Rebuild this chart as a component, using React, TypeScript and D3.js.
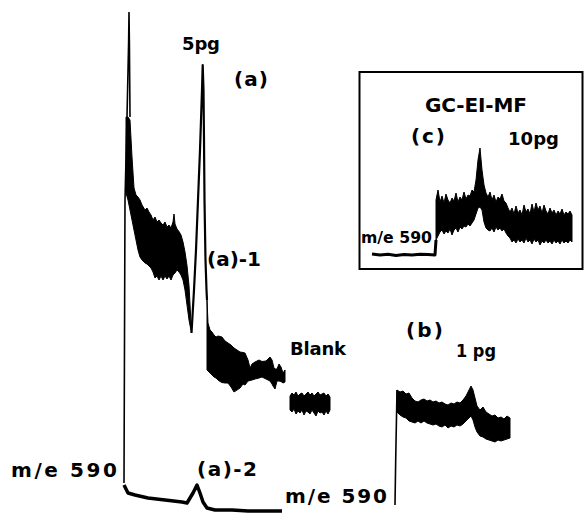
import React from "react";
import * as d3 from "d3";

// Panel (a)-1 : m/e 590 trace, 5 pg injection (scan no. / rel. intensity)
const a1RiseT = [0, 0.5, 1.5, 2.3, 2.5, 2.7, 3];
const a1RiseI = [0, 56.6, 73.2, 88, 94.2, 88, 73.2];

const a1BandT = [1, 2, 3, 4, 5, 6, 7, 8, 9, 10.5, 11.5, 12.5, 13.5, 14.5, 15.5, 16.5, 17.5, 18.5, 19.5, 20.5, 21.5, 22.5, 23.5, 24.5, 25, 25.5, 26.5, 27.5, 28.5, 29.5, 30.5, 31.5, 32.5, 33.75];
const a1BandHi = [73.2, 73.2, 72.6, 65.2, 59, 57.6, 57.2, 56.6, 55.6, 54.6, 55, 54.2, 53.6, 52.6, 53.2, 52.2, 52.6, 52, 51.6, 52.2, 51.2, 51.6, 51, 52.2, 53.8, 51.8, 50.8, 50.3, 49.6, 48.2, 46.2, 43.5, 39.5, 30];
const a1BandLo = [58, 56.6, 54.6, 52.6, 50.6, 48.6, 46.6, 45.2, 44.6, 44, 43.8, 43.4, 43, 42.2, 41, 41.4, 40.6, 41.4, 40.6, 41.4, 40.8, 41.4, 40.6, 41.6, 41.8, 42, 42.6, 42.2, 41.6, 40.6, 38.6, 35.6, 32.6, 30];

const a1PeakT = [33.75, 35, 36, 37, 38, 38.5, 39, 39.35, 39.75, 40, 40.25, 40.75, 41.25, 41.5];
const a1PeakI = [30, 38.6, 46.6, 56.6, 66.6, 72.6, 78.6, 83.6, 78.6, 68.6, 56.6, 44.6, 38.6, 36.6];

const a1TailT = [41.5, 42, 43, 44, 45, 46, 47, 48, 49, 50.5, 52, 53.5, 55, 56.5, 58, 59.5, 60.5, 62, 63, 64, 65.5, 67.5, 69, 71, 73, 74, 74.5, 75, 75.5, 76.5, 77.5, 78.5, 79.5, 80.5];
const a1TailHi = [36.6, 32, 30.6, 30.2, 29.6, 29.2, 29.4, 29.3, 29.2, 28.4, 28, 27.6, 27, 26.6, 26.2, 26.1, 26, 24.6, 23, 23.8, 24.2, 24.6, 24.3, 24.4, 25.2, 24.6, 23.8, 23, 22.8, 22.8, 23.8, 23.2, 22, 22.6];
const a1TailLo = [22.6, 22.4, 22, 21.6, 21.2, 21, 20.6, 20.3, 20.1, 20, 20, 19.2, 18.2, 18.6, 19, 19.8, 19.6, 20.4, 20.5, 20.6, 20.8, 21, 21.2, 20.8, 20.4, 19.8, 19.4, 19.1, 18.8, 20.4, 20.4, 20.3, 20, 20.2];

// Panel (a)-2
const a2T = [0, 0.5, 2, 5.5, 12, 20.5, 29, 31.5, 34.5, 36.5, 38, 39.5, 41.5, 45.5, 54, 62, 70.5, 79];
const a2I = [5.2, 4.8, 3.6, 3.2, 2.6, 2.2, 1.8, 1.6, 3.6, 5.2, 3.6, 1.8, 0.6, 0.2, 0.2, 0, 0, 0];

// Blank run
const blankT = [83, 84, 85, 86, 87, 88, 89, 90, 91, 92, 93, 94, 95, 96, 97, 98, 99, 100, 101, 102, 103];
const blankHi = [17.4, 18, 17.6, 18.2, 17.4, 17.8, 18, 17.4, 17.8, 18.2, 17.6, 18, 17.4, 17.8, 18.2, 17.6, 17.8, 18, 17.4, 17.8, 17.2];
const blankLo = [14.6, 14.2, 14.8, 13.8, 14.4, 14, 14.6, 13.6, 14.4, 14.2, 13.8, 14.6, 14, 13.4, 14.4, 14, 14.2, 13.6, 14.4, 13.8, 14.6];

// Panel (b) : 1 pg
const bRiseT = [0, 0.35, 0.75, 1];
const bRiseI = [0, 9, 17.6, 23];
const bT = [1, 2.5, 4, 5.5, 7, 8.5, 10, 11.5, 13, 14.5, 16, 17.5, 19, 20.5, 22, 23.5, 25, 26.5, 28, 29.5, 31, 32.5, 34, 35.5, 37, 38, 39, 40, 41, 42.5, 44, 45.5, 47, 48.5, 50, 51.5, 53, 54.5, 56, 57.5];
const bHi = [23, 22.6, 22.8, 22.2, 22.4, 21.4, 20.8, 20.6, 21, 21.2, 20.8, 21, 20.6, 20.8, 20.4, 20.6, 20.2, 20, 20.4, 20.2, 20.6, 20.4, 21, 21.8, 23, 23.8, 23, 21.4, 19.8, 19, 19.6, 18.6, 18.2, 17.8, 18, 17.4, 17.6, 17.2, 17.8, 17.4];
const bLo = [18.6, 18, 17.6, 17.4, 16.8, 16.6, 16.4, 16.8, 16.4, 16.8, 16.4, 16.2, 16, 16.2, 15.8, 15.6, 16, 15.4, 15.8, 15.6, 16, 15.8, 16.2, 16.8, 17.4, 17.8, 17, 15.6, 14.6, 13.8, 13.6, 13.2, 13, 12.8, 12.6, 13, 12.8, 13, 13.2, 13.4];

// Inset (c) : GC-EI-MF, 10 pg
const cBaseT = [0, 4, 8, 12, 16, 20, 24, 28, 31.5, 32];
const cBaseI = [0.5, 0, 0.4, -0.2, 0.3, 0, 0.4, 0.2, 0, 7.5];
const cT = [32, 33, 34, 35, 36, 37, 38, 39, 40, 41, 42, 43, 44, 45, 46, 47, 48, 49, 50, 51, 52, 53, 54, 55, 56, 57, 58, 59, 60, 61, 62, 63, 64, 65, 66, 67, 68, 69, 70, 71, 72, 73, 74, 75, 76, 77, 78, 79, 80, 81, 82, 83, 84, 85, 86, 87, 88, 89, 90, 91, 92, 93, 94, 95, 96, 97, 98, 99, 100];
const cHi = [27.5, 32.5, 26.5, 29.5, 26, 30.5, 27.5, 26, 28.5, 27, 31, 26.5, 29, 27.5, 31.5, 28, 30, 29.5, 32.5, 31.5, 37.5, 47.5, 53.5, 42.5, 35, 31, 29, 31.5, 27.5, 30, 26.5, 29, 28, 30.5, 27, 26, 23.5, 21.5, 23.5, 20.5, 24.5, 21, 22.5, 20, 25, 21.5, 23, 20.5, 25.5, 21.5, 26, 22.5, 24.5, 21, 25, 22, 20.5, 23.5, 21, 22.5, 20, 22, 20.5, 23, 20, 21.5, 20.5, 22, 20];
const cLo = [7.5, 9.5, 11.5, 12.5, 10.5, 12, 11, 13, 10, 12.5, 13.5, 11.5, 14, 13, 14.5, 14, 15.5, 14.5, 16, 17.5, 20.5, 23.5, 24, 22.5, 16.5, 13.5, 12.5, 12, 13.5, 11.5, 14, 12.5, 13.5, 12, 13, 11, 9.5, 8.5, 6.5, 7.5, 6, 8, 6.5, 7.5, 6, 8.5, 6.5, 7.5, 5.5, 8, 6.5, 7.5, 5, 7, 6, 7.5, 6, 7, 5.5, 7.5, 6, 7, 5.5, 7.5, 6, 7, 6, 7.5, 6.5];

const FONT = "'DejaVu Sans', sans-serif";

const App = () => {
  const width = 584;
  const height = 517;

  const xA = d3.scaleLinear().domain([0, 80]).range([124, 284]);
  const yA = d3.scaleLinear().domain([0, 94]).range([483, 13]);
  const yA2 = d3.scaleLinear().domain([0, 10]).range([511, 461]);
  const xB = d3.scaleLinear().domain([0, 60]).range([395, 515]);
  const yB = d3.scaleLinear().domain([0, 30]).range([505, 355]);
  const xC = d3.scaleLinear().domain([0, 100]).range([372, 572]);
  const yC = d3.scaleLinear().domain([0, 60]).range([255, 135]);

  const linePath = (ts, vs, x, y) =>
    d3.line().x((d) => x(d[0])).y((d) => y(d[1]))(ts.map((t, i) => [t, vs[i]]));

  const bandPath = (ts, hi, lo, x, y) =>
    d3
      .area()
      .x((d) => x(d[0]))
      .y0((d) => y(d[2]))
      .y1((d) => y(d[1]))(ts.map((t, i) => [t, hi[i], lo[i]]));

  const lbl = { fontFamily: FONT, fontWeight: "bold", fill: "#000" };

  return (
    <svg
      width={width}
      height={height}
      style={{ position: "absolute", left: 0, top: 0, background: "#fff" }}
    >
      <rect x={0} y={0} width={width} height={height} fill="#fff" />

      {/* (a)-1 */}
      <path d={linePath(a1RiseT, a1RiseI, xA, yA)} fill="none" stroke="#000" strokeWidth={1.6} />
      <path d={bandPath(a1BandT, a1BandHi, a1BandLo, xA, yA)} fill="#000" stroke="#000" strokeWidth={1} strokeLinejoin="round" />
      <path d={linePath(a1PeakT, a1PeakI, xA, yA)} fill="none" stroke="#000" strokeWidth={2.2} strokeLinejoin="round" />
      <path d={bandPath(a1TailT, a1TailHi, a1TailLo, xA, yA)} fill="#000" stroke="#000" strokeWidth={1} strokeLinejoin="round" />

      {/* (a)-2 */}
      <path d={linePath(a2T, a2I, xA, yA2)} fill="none" stroke="#000" strokeWidth={3.5} strokeLinejoin="round" />

      {/* blank */}
      <path d={bandPath(blankT, blankHi, blankLo, xA, yA)} fill="#000" stroke="#000" strokeWidth={1} strokeLinejoin="round" />

      {/* (b) */}
      <path d={linePath(bRiseT, bRiseI, xB, yB)} fill="none" stroke="#000" strokeWidth={1.6} />
      <path d={bandPath(bT, bHi, bLo, xB, yB)} fill="#000" stroke="#000" strokeWidth={1} strokeLinejoin="round" />

      {/* inset (c) */}
      <rect x={359.5} y={72} width={223} height={197} fill="none" stroke="#000" strokeWidth={2} />
      <path d={linePath(cBaseT, cBaseI, xC, yC)} fill="none" stroke="#000" strokeWidth={3} strokeLinejoin="round" />
      <path d={bandPath(cT, cHi, cLo, xC, yC)} fill="#000" stroke="#000" strokeWidth={1} strokeLinejoin="round" />

      {/* labels */}
      <g style={lbl}>
        <text x={182} y={50} fontSize={18} textLength={38} lengthAdjust="spacing">5pg</text>
        <text x={234} y={86} fontSize={20} textLength={34} lengthAdjust="spacing">(a)</text>
        <text x={207} y={266} fontSize={20} textLength={54} lengthAdjust="spacing">(a)-1</text>
        <text x={290} y={355} fontSize={18} textLength={56} lengthAdjust="spacing">Blank</text>
        <text x={406} y={337} fontSize={20} textLength={37} lengthAdjust="spacing">(b)</text>
        <text x={456} y={357} fontSize={18} textLength={40} lengthAdjust="spacingAndGlyphs">1 pg</text>
        <text x={11} y={477} fontSize={20} textLength={106} lengthAdjust="spacing">m/e  590</text>
        <text x={197} y={476} fontSize={20} textLength={60} lengthAdjust="spacing">(a)-2</text>
        <text x={285} y={503} fontSize={20} textLength={102} lengthAdjust="spacing">m/e  590</text>
        <text x={425} y={112} fontSize={20} textLength={102} lengthAdjust="spacing">GC-EI-MF</text>
        <text x={411} y={143} fontSize={20} textLength={34} lengthAdjust="spacing">(c)</text>
        <text x={508} y={145} fontSize={18} textLength={51} lengthAdjust="spacing">10pg</text>
      </g>
      <text x={361} y={243} textLength={71} lengthAdjust="spacingAndGlyphs" fontSize={15} style={lbl}>
        m/e 590
      </text>
    </svg>
  );
};

export default App;
